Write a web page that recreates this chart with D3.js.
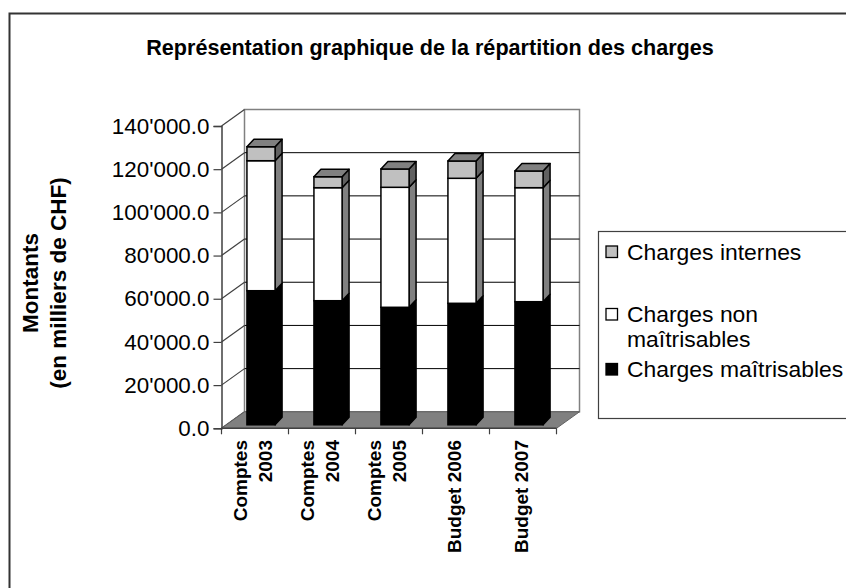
<!DOCTYPE html>
<html>
<head>
<meta charset="utf-8">
<script src="https://d3js.org/d3.v7.min.js"></script>
<style>
  body { margin: 0; background: #fff; }
  svg { display: block; font-family: "Liberation Sans", Arial, sans-serif; }
</style>
</head>
<body>
<div id="chart"></div>
<script>
// values (milliers de CHF)
const categories = ["Comptes 2003", "Comptes 2004", "Comptes 2005", "Budget 2006", "Budget 2007"];
const categoryLines = [["Comptes", "2003"], ["Comptes", "2004"], ["Comptes", "2005"], ["Budget 2006"], ["Budget 2007"]];
const chargesMaitrisables = [62100, 57470, 54420, 56270, 57010];
const chargesNonMaitrisables = [60200, 52330, 55570, 57890, 52800];
const chargesInternes = [6480, 5090, 8480, 8010, 7730];
const yTicks = [0, 20000, 40000, 60000, 80000, 100000, 120000, 140000];
const legendLabels = [["Charges internes"], ["Charges non", "maîtrisables"], ["Charges maîtrisables"]];

const series = [
  {name: "Charges maîtrisables", values: chargesMaitrisables, front: "#000", side: "#000"},
  {name: "Charges non maîtrisables", values: chargesNonMaitrisables, front: "#fff", side: "#808080"},
  {name: "Charges internes", values: chargesInternes, front: "#c0c0c0", side: "#606060"}
];

const W = 846, H = 588;
const svg = d3.select("#chart").append("svg")
  .attr("width", W).attr("height", H);

// outer frame
svg.append("rect")
  .attr("x", 9.5).attr("y", 13.5)
  .attr("width", 900).attr("height", 700)
  .attr("fill", "#fff").attr("stroke", "#333").attr("stroke-width", 2);

// title
svg.append("text")
  .attr("x", 430).attr("y", 55)
  .attr("text-anchor", "middle")
  .attr("font-weight", "bold").attr("font-size", 21.6)
  .text("Représentation graphique de la répartition des charges");

// scales (front plane)
const x = d3.scaleBand().domain(categories).range([221.5, 556.5]);
const y = d3.scaleLinear().domain([0, 140000]).range([428.3, 126]);
const depth = {x: 23, y: -16.5};     // floor / wall depth
const barOff = {x: 6, y: -3.5};      // bar front plane offset
const barDepth = {x: 7, y: -7.5};    // bar thickness
const barW = x.bandwidth() * 0.42;

const x0 = x.range()[0], x1 = x.range()[1];
const g = svg.append("g");

// back wall
g.append("rect")
  .attr("x", x0 + depth.x).attr("y", y(140000) + depth.y)
  .attr("width", x1 - x0).attr("height", y(0) - y(140000))
  .attr("fill", "#fff").attr("stroke", "#808080").attr("stroke-width", 1.5);

// gridlines on back wall
g.selectAll(".grid").data(yTicks.filter(d => d > 0 && d < 140000)).join("line")
  .attr("x1", x0 + depth.x).attr("x2", x1 + depth.x)
  .attr("y1", d => y(d) + depth.y).attr("y2", d => y(d) + depth.y)
  .attr("stroke", "#000").attr("stroke-width", 1);

// side wall diagonals
g.selectAll(".diag").data(yTicks).join("line")
  .attr("x1", x0).attr("y1", d => y(d))
  .attr("x2", x0 + depth.x).attr("y2", d => y(d) + depth.y)
  .attr("stroke", "#404040").attr("stroke-width", 1.2);

// floor
g.append("path")
  .attr("d", d3.line()([[x0, y(0)], [x1, y(0)], [x1 + depth.x, y(0) + depth.y], [x0 + depth.x, y(0) + depth.y]]) + "Z")
  .attr("fill", "#808080").attr("stroke", "#606060").attr("stroke-width", 1);

// stacked 3D bars
const stacked = d3.stack().keys(d3.range(series.length))
  .value((d, k) => series[k].values[d])(d3.range(categories.length));

categories.forEach((c, i) => {
  const bx0 = x(c) + (x.bandwidth() - barW) / 2 + barOff.x;
  const bx1 = bx0 + barW;
  const bg = g.append("g");
  stacked.forEach((layer, k) => {
    const yb = y(layer[i][0]) + barOff.y;
    const yt = y(layer[i][1]) + barOff.y;
    // side face
    bg.append("path")
      .attr("d", d3.line()([[bx1, yb], [bx1 + barDepth.x, yb + barDepth.y], [bx1 + barDepth.x, yt + barDepth.y], [bx1, yt]]) + "Z")
      .attr("fill", series[k].side).attr("stroke", "#000").attr("stroke-width", 1.5)
      .attr("stroke-linejoin", "round");
    // front face
    bg.append("rect")
      .attr("x", bx0).attr("y", yt)
      .attr("width", barW).attr("height", yb - yt)
      .attr("fill", series[k].front).attr("stroke", "#000").attr("stroke-width", 1.5);
    if (k === series.length - 1) {
      bg.append("path")
        .attr("d", d3.line()([[bx0, yt], [bx0 + barDepth.x, yt + barDepth.y], [bx1 + barDepth.x, yt + barDepth.y], [bx1, yt]]) + "Z")
        .attr("fill", "#808080").attr("stroke", "#000").attr("stroke-width", 1.5)
        .attr("stroke-linejoin", "round");
    }
  });
});

// y axis
const fmt = d3.formatLocale({decimal: ".", thousands: "'", grouping: [3], currency: ["", ""]}).format(",.1f");
const yAxis = g.append("g")
  .attr("transform", `translate(${x0},0)`)
  .call(d3.axisLeft(y).tickValues(yTicks).tickFormat(fmt).tickSize(8).tickPadding(4));
yAxis.select(".domain").attr("stroke", "#404040").attr("stroke-width", 1.5);
yAxis.selectAll(".tick line").attr("stroke", "#404040").attr("stroke-width", 1.2);
yAxis.selectAll(".tick text").attr("font-size", 22.4).attr("fill", "#000")
  .attr("font-family", "Liberation Sans, Arial, sans-serif");

// x axis line with category boundary ticks
g.append("line")
  .attr("x1", x0).attr("x2", x1).attr("y1", y(0)).attr("y2", y(0))
  .attr("stroke", "#404040").attr("stroke-width", 1.5);
g.selectAll(".xtick").data(categories.map(c => x(c)).concat([x1])).join("line")
  .attr("x1", d => d).attr("x2", d => d)
  .attr("y1", y(0)).attr("y2", y(0) + 6)
  .attr("stroke", "#404040").attr("stroke-width", 1.2);

// x labels, rotated
categories.forEach((c, i) => {
  const cx = x(c) + x.bandwidth() / 2;
  const lines = categoryLines[i];
  const offs = lines.length === 2 ? [-8, 17] : [5];
  const t = g.append("text")
    .attr("transform", `translate(${cx},440) rotate(-90)`)
    .attr("text-anchor", "end")
    .attr("font-weight", "bold").attr("font-size", 19);
  lines.forEach((l, j) => {
    t.append("tspan").attr("x", 0).attr("y", offs[j]).text(l);
  });
});

// y axis title
const yt = g.append("text")
  .attr("transform", "translate(0,283) rotate(-90)")
  .attr("text-anchor", "middle")
  .attr("font-weight", "bold").attr("font-size", 22.5);
yt.append("tspan").attr("x", 0).attr("y", 38).text("Montants");
yt.append("tspan").attr("x", 0).attr("y", 66).text("(en milliers de CHF)");

// legend
const lg = svg.append("g");
lg.append("rect")
  .attr("x", 598.5).attr("y", 231.5).attr("width", 300).attr("height", 187)
  .attr("fill", "#fff").attr("stroke", "#404040").attr("stroke-width", 1.2);
const legendSwatch = [series[2], series[1], series[0]];
const legendY = [259.5, 322, 377];
legendLabels.forEach((lines, i) => {
  const by = legendY[i];
  lg.append("rect")
    .attr("x", 606).attr("y", by - 13.5).attr("width", 11.5).attr("height", 11.5)
    .attr("fill", legendSwatch[i].front).attr("stroke", "#000").attr("stroke-width", 1.3);
  const t = lg.append("text").attr("font-size", 22.9);
  lines.forEach((l, j) => {
    t.append("tspan").attr("x", 627).attr("y", by + j * 24.5).text(l);
  });
});
</script>
</body>
</html>
